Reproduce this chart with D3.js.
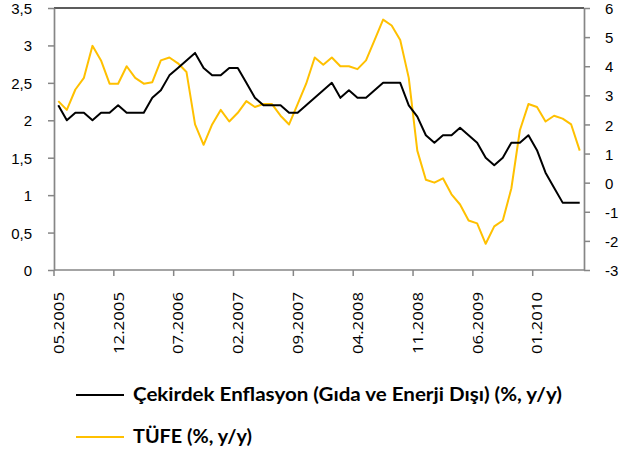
<!DOCTYPE html>
<html>
<head>
<meta charset="utf-8">
<script src="https://cdn.jsdelivr.net/npm/d3@7/dist/d3.min.js"></script>
<style>
  html, body { margin: 0; padding: 0; background: #fff; }
  svg { display: block; }
  text { font-family: "Open Sans", "Noto Sans", sans-serif; fill: #000; }
</style>
</head>
<body>
<svg id="chart" width="623" height="458"></svg>
<script>
// ---- data ----
const dates = [
  "05.2005","06.2005","07.2005","08.2005","09.2005","10.2005","11.2005","12.2005",
  "01.2006","02.2006","03.2006","04.2006","05.2006","06.2006","07.2006","08.2006",
  "09.2006","10.2006","11.2006","12.2006","01.2007","02.2007","03.2007","04.2007",
  "05.2007","06.2007","07.2007","08.2007","09.2007","10.2007","11.2007","12.2007",
  "01.2008","02.2008","03.2008","04.2008","05.2008","06.2008","07.2008","08.2008",
  "09.2008","10.2008","11.2008","12.2008","01.2009","02.2009","03.2009","04.2009",
  "05.2009","06.2009","07.2009","08.2009","09.2009","10.2009","11.2009","12.2009",
  "01.2010","02.2010","03.2010","04.2010","05.2010","06.2010"
];
// Çekirdek enflasyon (left axis)
const coreInflation = [
  2.2, 2.0, 2.1, 2.1, 2.0, 2.1, 2.1, 2.2, 2.1, 2.1, 2.1, 2.3, 2.4, 2.6, 2.7, 2.8,
  2.9, 2.7, 2.6, 2.6, 2.7, 2.7, 2.5, 2.3, 2.2, 2.2, 2.2, 2.1, 2.1, 2.2, 2.3, 2.4,
  2.5, 2.3, 2.4, 2.3, 2.3, 2.4, 2.5, 2.5, 2.5, 2.2, 2.05, 1.8, 1.7, 1.8, 1.8, 1.9,
  1.8, 1.7, 1.5, 1.4, 1.5, 1.7, 1.7, 1.8, 1.6, 1.3, 1.1, 0.9, 0.9, 0.9
];
// TÜFE (right axis)
const cpi = [
  2.8, 2.5, 3.2, 3.6, 4.7, 4.2, 3.4, 3.4, 4.0, 3.6, 3.4, 3.45, 4.2, 4.3, 4.1, 3.8,
  2.0, 1.3, 2.0, 2.5, 2.1, 2.4, 2.8, 2.6, 2.7, 2.7, 2.3, 2.0, 2.7, 3.4, 4.3, 4.05,
  4.3, 4.0, 4.0, 3.9, 4.2, 4.9, 5.6, 5.4, 4.9, 3.6, 1.1, 0.1, 0.0, 0.15, -0.4, -0.75,
  -1.3, -1.4, -2.1, -1.5, -1.3, -0.2, 1.8, 2.7, 2.6, 2.1, 2.3, 2.2, 2.0, 1.1
];
const leftTicks = [0, 0.5, 1, 1.5, 2, 2.5, 3, 3.5];
const rightTicks = [-3, -2, -1, 0, 1, 2, 3, 4, 5, 6];
const labelEvery = 7;
const seriesNames = ["Çekirdek Enflasyon (Gıda ve Enerji Dışı) (%, y/y)", "TÜFE (%, y/y)"];
const seriesColors = ["#000000", "#FFC000"];

// ---- layout ----
const L = 54, R = 584, T = 8, B = 270;
const axisColor = "#868686";
const svg = d3.select("#chart");

const x = d3.scaleBand().domain(dates).range([L, R]).paddingInner(0).paddingOuter(0);
const cx = d => x(d) + x.bandwidth() / 2;
const yL = d3.scaleLinear().domain([0, 3.5]).range([B, T]);
const yR = d3.scaleLinear().domain([-3, 6]).range([B, T]);

const fmtComma = d => String(d).replace(".", ",");

// top border
svg.append("line").attr("x1", L).attr("x2", R).attr("y1", T).attr("y2", T)
  .attr("stroke", "#262626").attr("stroke-width", 1.7);

// left axis
const gL = svg.append("g").attr("transform", `translate(${L},0)`)
  .call(d3.axisLeft(yL).tickValues(leftTicks).tickSize(6).tickSizeOuter(0)
    .tickPadding(16).tickFormat(fmtComma));
// right axis
const gR = svg.append("g").attr("transform", `translate(${R},0)`)
  .call(d3.axisRight(yR).tickValues(rightTicks).tickSize(6).tickSizeOuter(0)
    .tickPadding(15).tickFormat(d => String(d)));
[gL, gR].forEach(g => {
  g.select(".domain").attr("stroke", axisColor).attr("stroke-width", 1.7);
  g.selectAll(".tick line").attr("stroke", axisColor).attr("stroke-width", 1.5);
  g.selectAll(".tick text").attr("font-size", 15).attr("fill", "#000")
    .attr("dy", "0.37em")
    .style("font-family", '"Liberation Sans", Arial, sans-serif');
});

// bottom axis
const tickDates = dates.filter((d, i) => i % labelEvery === 0);
const gB = svg.append("g").attr("transform", `translate(0,${B})`);
gB.append("line").attr("x1", L).attr("x2", R).attr("y1", 0).attr("y2", 0)
  .attr("stroke", axisColor).attr("stroke-width", 1.7);
gB.selectAll("line.tk").data(tickDates).join("line").attr("class", "tk")
  .attr("x1", d => x(d)).attr("x2", d => x(d)).attr("y1", 0).attr("y2", 6)
  .attr("stroke", axisColor).attr("stroke-width", 1.5);
gB.selectAll("text.lbl").data(tickDates).join("text").attr("class", "lbl")
  .attr("transform", d => `translate(${cx(d) + 5.5},22) rotate(-90)`)
  .attr("text-anchor", "end")
  .attr("font-size", 15)
  .attr("textLength", 62).attr("lengthAdjust", "spacingAndGlyphs")
  .text(d => d);

// lines
const lineL = d3.line().x((d, i) => cx(dates[i])).y(d => yL(d));
const lineR = d3.line().x((d, i) => cx(dates[i])).y(d => yR(d));
svg.append("path").datum(cpi).attr("d", lineR).attr("fill", "none")
  .attr("stroke", seriesColors[1]).attr("stroke-width", 2).attr("stroke-linejoin", "round");
svg.append("path").datum(coreInflation).attr("d", lineL).attr("fill", "none")
  .attr("stroke", seriesColors[0]).attr("stroke-width", 2).attr("stroke-linejoin", "round");

// legend
const legendY = [395, 437];
const legendW = [429, 119];
const lg = svg.append("g");
seriesNames.forEach((name, i) => {
  lg.append("line").attr("x1", 76).attr("x2", 124).attr("y1", legendY[i]).attr("y2", legendY[i])
    .attr("stroke", seriesColors[i]).attr("stroke-width", 2);
  lg.append("text").attr("x", 133).attr("y", legendY[i] + 6)
    .attr("font-size", 18).attr("font-weight", 700)
    .attr("textLength", legendW[i]).attr("lengthAdjust", "spacingAndGlyphs")
    .style("font-family", 'Lato, "Open Sans", sans-serif')
    .text(name);
});
</script>
</body>
</html>
